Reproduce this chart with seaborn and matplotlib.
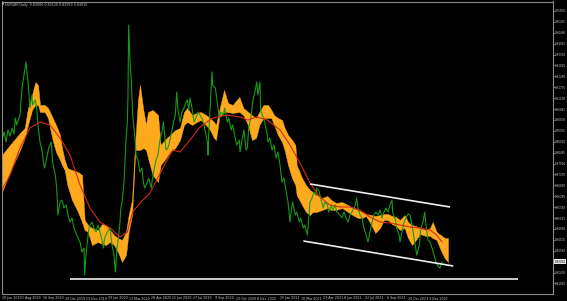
import numpy as np
import pandas as pd
import matplotlib
matplotlib.use("Agg")
import matplotlib.pyplot as plt
import matplotlib.transforms as mtransforms
import seaborn as sns

# ---------------- data ----------------
price_bar = [0, 3, 6, 9, 12, 15, 18, 20, 22, 27, 30, 33, 36, 39, 42, 45, 46, 50, 52, 54,
             57, 60, 62, 64, 68, 70, 74, 76, 80, 82, 84, 87, 90, 93, 96, 99, 102, 105, 108, 112,
             117, 120, 123, 124, 126, 128, 130, 132, 135, 138, 141, 144, 147, 150, 152, 154, 158, 162, 165, 168,
             170, 171, 172, 174, 177, 178, 180, 182, 183, 184, 186, 188, 189, 190, 192, 194, 195, 196, 200, 201,
             204, 207, 210, 212, 214, 218, 220, 224, 225, 228, 231, 234, 237, 240, 242, 244, 246, 249, 252, 255,
             258, 260, 262, 264, 267, 270, 273, 276, 278, 280, 282, 285, 288, 291, 294, 297, 300, 303, 306, 308,
             309, 310, 312, 315, 316, 320, 322, 326, 328, 332, 334, 338, 340, 344, 346, 350, 352, 356, 357, 360,
             363, 366, 368, 370, 374, 376, 380, 382, 384, 387, 388, 392, 394, 398, 399, 402, 405, 408, 411, 414,
             417, 420, 423, 426, 429, 432, 434, 436, 440, 442, 446, 448, 452, 454, 458, 459, 462, 465, 468, 471,
             472, 476, 478, 482, 484, 488, 490, 494, 496, 500, 502, 507, 510, 513, 516, 519, 522, 525, 530, 532,
             534, 537, 540, 543, 546, 549, 552, 555, 558, 561, 564, 567, 570, 573, 576, 579, 582, 585, 586, 590,
             592, 596, 597, 600, 603, 606, 609, 612, 615, 618, 621, 622, 626, 628, 632, 634, 636, 639, 642, 645,
             648, 651, 654, 657, 660]
price_close = [0.8910, 0.8950, 0.8900, 0.8960, 0.8930, 0.8970, 0.8940, 0.9020, 0.8985, 0.9035,
               0.9170, 0.9235, 0.9300, 0.9200, 0.9070, 0.9135, 0.9085, 0.9110, 0.9070, 0.8985,
               0.8900, 0.8860, 0.8800, 0.8770, 0.8835, 0.8870, 0.8900, 0.8800, 0.8735, 0.8670,
               0.8535, 0.8600, 0.8610, 0.8570, 0.8585, 0.8535, 0.8500, 0.8520, 0.8470, 0.8435,
               0.8400, 0.8350, 0.8370, 0.8235, 0.8335, 0.8400, 0.8460, 0.8485, 0.8500, 0.8470,
               0.8450, 0.8485, 0.8450, 0.8410, 0.8370, 0.8420, 0.8450, 0.8470, 0.8385, 0.8335,
               0.8250, 0.8285, 0.8360, 0.8400, 0.8500, 0.8560, 0.8600, 0.8660, 0.8700, 0.8770,
               0.8910, 0.9000, 0.9135, 0.9485, 0.9310, 0.9200, 0.9110, 0.9035, 0.8900, 0.8835,
               0.8810, 0.8750, 0.8770, 0.8700, 0.8670, 0.8700, 0.8720, 0.8670, 0.8700, 0.8760,
               0.8810, 0.8835, 0.8910, 0.8950, 0.9000, 0.8935, 0.8860, 0.8870, 0.8910, 0.8960,
               0.9010, 0.9035, 0.9150, 0.9060, 0.9000, 0.9050, 0.9070, 0.9100, 0.9110, 0.9060,
               0.9120, 0.9070, 0.9000, 0.9020, 0.9050, 0.9035, 0.9020, 0.8985, 0.8935, 0.8900,
               0.8835, 0.8935, 0.9060, 0.9250, 0.9185, 0.9170, 0.9120, 0.9020, 0.9050, 0.9035,
               0.9070, 0.9000, 0.9020, 0.8960, 0.8985, 0.8920, 0.8885, 0.8910, 0.8850, 0.8910,
               0.8960, 0.8860, 0.8870, 0.8970, 0.9035, 0.9100, 0.9160, 0.9200, 0.9135, 0.9200,
               0.9060, 0.9020, 0.9000, 0.8935, 0.8900, 0.8920, 0.8860, 0.8885, 0.8820, 0.8850,
               0.8785, 0.8700, 0.8720, 0.8660, 0.8600, 0.8500, 0.8560, 0.8600, 0.8535, 0.8550,
               0.8500, 0.8520, 0.8470, 0.8485, 0.8435, 0.8470, 0.8600, 0.8620, 0.8650, 0.8635,
               0.8670, 0.8650, 0.8620, 0.8570, 0.8600, 0.8585, 0.8550, 0.8585, 0.8560, 0.8585,
               0.8550, 0.8535, 0.8520, 0.8550, 0.8520, 0.8500, 0.8535, 0.8550, 0.8585, 0.8620,
               0.8570, 0.8535, 0.8520, 0.8470, 0.8435, 0.8400, 0.8450, 0.8500, 0.8535, 0.8550,
               0.8535, 0.8560, 0.8520, 0.8550, 0.8570, 0.8550, 0.8585, 0.8610, 0.8550, 0.8510,
               0.8470, 0.8430, 0.8400, 0.8450, 0.8500, 0.8520, 0.8540, 0.8535, 0.8485, 0.8420,
               0.8360, 0.8335, 0.8385, 0.8460, 0.8510, 0.8550, 0.8485, 0.8410, 0.8400, 0.8370,
               0.8335, 0.8300, 0.8280, 0.8270, 0.8300]

cloud_bar = [0, 12, 27, 34, 39, 45, 50, 54, 57, 64, 69, 72, 76, 81, 87, 90, 94, 98, 105, 114,
             120, 124, 129, 135, 144, 150, 156, 162, 168, 174, 180, 186, 190, 195, 200, 204, 207, 212, 216, 219,
             226, 234, 238, 244, 252, 260, 267, 273, 278, 285, 292, 298, 306, 312, 318, 321, 326, 333, 339, 346,
             356, 362, 369, 375, 381, 386, 392, 399, 404, 408, 414, 420, 424, 429, 435, 440, 442, 450, 456, 462,
             466, 472, 480, 488, 494, 501, 510, 519, 526, 534, 540, 546, 554, 560, 567, 573, 579, 585, 591, 597,
             604, 609, 615, 621, 627, 636, 642, 646, 652, 658, 664, 669]
span_a = [0.8835, 0.8885, 0.8945, 0.8970, 0.9070, 0.9135, 0.9200, 0.9185, 0.9085, 0.9085,
          0.9070, 0.9050, 0.9020, 0.8985, 0.8935, 0.8870, 0.8810, 0.8770, 0.8760, 0.8750,
          0.8735, 0.8510, 0.8485, 0.8470, 0.8460, 0.8490, 0.8485, 0.8460, 0.8435, 0.8420,
          0.8410, 0.8450, 0.8535, 0.8610, 0.8910, 0.9110, 0.9185, 0.9060, 0.8985, 0.9050,
          0.9060, 0.9035, 0.8885, 0.8910, 0.8935, 0.8960, 0.8970, 0.9050, 0.9070, 0.9035,
          0.9045, 0.9050, 0.9035, 0.9020, 0.9000, 0.8985, 0.9060, 0.9160, 0.9095, 0.9085,
          0.9125, 0.9070, 0.9050, 0.9035, 0.9020, 0.9050, 0.9085, 0.9085, 0.9060, 0.9035,
          0.9020, 0.9010, 0.8970, 0.8935, 0.8910, 0.8885, 0.8785, 0.8720, 0.8685, 0.8660,
          0.8650, 0.8635, 0.8620, 0.8630, 0.8610, 0.8595, 0.8600, 0.8585, 0.8570, 0.8560,
          0.8550, 0.8540, 0.8535, 0.8530, 0.8535, 0.8540, 0.8540, 0.8530, 0.8525, 0.8510,
          0.8535, 0.8500, 0.8485, 0.8480, 0.8470, 0.8460, 0.8470, 0.8500, 0.8450, 0.8435,
          0.8420, 0.8420]
span_b = [0.8650, 0.8750, 0.8860, 0.8920, 0.8985, 0.9060, 0.9085, 0.9085, 0.9050, 0.9050,
          0.9020, 0.8970, 0.8910, 0.8850, 0.8810, 0.8785, 0.8760, 0.8685, 0.8610, 0.8550,
          0.8500, 0.8460, 0.8450, 0.8385, 0.8400, 0.8390, 0.8385, 0.8400, 0.8385, 0.8350,
          0.8300, 0.8335, 0.8450, 0.8535, 0.8860, 0.8860, 0.8860, 0.8870, 0.8860, 0.8820,
          0.8735, 0.8700, 0.8785, 0.8810, 0.8850, 0.8870, 0.8910, 0.8985, 0.9000, 0.8985,
          0.9000, 0.9010, 0.8985, 0.8960, 0.8920, 0.8910, 0.9025, 0.9050, 0.9050, 0.9045,
          0.9050, 0.9035, 0.8985, 0.8910, 0.8920, 0.8985, 0.9020, 0.9020, 0.9020, 0.8985,
          0.8935, 0.8900, 0.8860, 0.8785, 0.8720, 0.8685, 0.8635, 0.8585, 0.8550, 0.8535,
          0.8550, 0.8550, 0.8560, 0.8570, 0.8560, 0.8560, 0.8570, 0.8550, 0.8535, 0.8520,
          0.8520, 0.8530, 0.8485, 0.8445, 0.8470, 0.8510, 0.8510, 0.8490, 0.8480, 0.8460,
          0.8470, 0.8420, 0.8385, 0.8410, 0.8440, 0.8430, 0.8430, 0.8420, 0.8410, 0.8360,
          0.8320, 0.8300]

ma_bar = [0, 12, 27, 42, 57, 72, 87, 102, 117, 132, 147, 162, 177, 188, 196, 207, 222, 242, 256, 267,
          282, 297, 316, 338, 357, 369, 382, 398, 417, 432, 447, 462, 477, 492, 507, 522, 537, 552, 567, 582,
          597, 612, 627, 642, 652, 660]
ma_value = [0.8660, 0.8735, 0.8870, 0.8970, 0.9000, 0.8985, 0.8920, 0.8835, 0.8685, 0.8570,
            0.8500, 0.8470, 0.8425, 0.8450, 0.8550, 0.8595, 0.8645, 0.8775, 0.8860, 0.8850,
            0.8910, 0.8975, 0.9020, 0.9035, 0.9025, 0.9010, 0.9025, 0.9010, 0.8960, 0.8885,
            0.8795, 0.8695, 0.8625, 0.8585, 0.8575, 0.8575, 0.8560, 0.8525, 0.8500, 0.8495,
            0.8485, 0.8475, 0.8470, 0.8460, 0.8435, 0.8400]

# drawn trend lines (start/end bar, start/end price)
upper_line_bar = [462, 672]
upper_line_val = [0.8690, 0.8575]
lower_line_bar = [452, 677]
lower_line_val = [0.8405, 0.8280]
support_bar = [102, 774]
support_val = [0.8213, 0.8213]

date_labels = ["20 Jun 2019", "1 Aug 2019", "16 Sep 2019", "30 Oct 2019", "13 Dec 2019",
               "29 Jan 2020", "13 Mar 2020", "28 Apr 2020", "11 Jun 2020", "27 Jul 2020",
               "9 Sep 2020", "23 Oct 2020", "8 Dec 2020", "25 Jan 2021", "10 Mar 2021",
               "23 Apr 2021", "8 Jun 2021", "22 Jul 2021", "6 Sep 2021", "20 Oct 2021",
               "3 Dec 2021"]
price_ticks = [0.95550, 0.95005, 0.94460, 0.93915, 0.93370, 0.92825, 0.92280, 0.91735,
               0.91190, 0.90645, 0.90100, 0.89555, 0.89010, 0.88465, 0.87920, 0.87375,
               0.86830, 0.86285, 0.85740, 0.85195, 0.84650, 0.84105, 0.83560, 0.83015,
               0.82470, 0.81925]
header = "EURGBP,Daily  0.83005 0.83120 0.82950 0.83010"
last_price = 0.83010

# ---------------- style ----------------
sns.set_style("dark")
plt.rcParams['font.family'] = ['DejaVu Sans']
W, H = 567, 301
fig = plt.figure(figsize=(W / 100, H / 100), dpi=100, facecolor="black")
ax = fig.add_axes([1.5 / W, 7 / H, (553 - 1.5) / W, (294 - 1.5) / H])
ax.set_facecolor("black")

green = "#149b14"
orange = "#ffa91c"
red = "#d42a1a"
txt = "#c8c8c8"
fs = 2.3
fs_y = 1.95

ax.fill_between(cloud_bar, span_a, span_b, color=orange, linewidth=0.3, edgecolor=orange, zorder=1)
sns.lineplot(x=price_bar, y=price_close, ax=ax, color=green, linewidth=0.8, zorder=2,
             estimator=None, sort=False)
sns.lineplot(x=ma_bar, y=ma_value, ax=ax, color=red, linewidth=0.8, zorder=3,
             estimator=None, sort=False)
for xs, ys in [(upper_line_bar, upper_line_val), (lower_line_bar, lower_line_val),
               (support_bar, support_val)]:
    ax.plot(xs, ys, color="#eeeeee", linewidth=1.2, zorder=4, solid_capstyle="butt")

ax.set_xlim(-0.75, 826.5)
ax.set_ylim(0.814, 0.96025)

# x ticks: bar positions of the label dates
tick_dates = pd.to_datetime(date_labels, format="%d %b %Y").values.astype("datetime64[D]")
tick_pos = np.busday_count(np.datetime64("2019-06-20"), tick_dates)
ax.set_xticks(tick_pos)
ax.set_xticklabels(date_labels, fontsize=fs, color=txt, ha="left")
ax.set_yticks(price_ticks)
ax.set_yticklabels([f"{v:.5f}" for v in price_ticks], fontsize=fs_y, color=txt)
ax.yaxis.tick_right()
ax.tick_params(axis="both", colors="#9a9a9a", length=1.2, width=0.5, pad=0.5,
               labelcolor=txt)
ax.tick_params(axis="x", pad=0.6)
ax.grid(False)
for side, sp in ax.spines.items():
    sp.set_visible(True)
    sp.set_color("#8a8a8a")
    sp.set_linewidth(0.8)

# current price marker on the price scale
trans = mtransforms.blended_transform_factory(ax.transAxes, ax.transData)
ax.text(1.003, last_price, f"{last_price:.5f}", transform=trans, fontsize=fs_y,
        color="black", va="center", ha="left",
        bbox=dict(boxstyle="square,pad=0.15", facecolor="#e6e6e6", edgecolor="none"),
        clip_on=False, zorder=6)

fig.text(5 / W, 1 - 5 / H, header, fontsize=fs, color=txt, va="center", ha="left")
fig.text(1.5 / W, 1 - 5 / H, "\u25bc", fontsize=2.0, color=txt, va="center", ha="left")

fig.savefig("out.png", dpi=100, facecolor="black")
